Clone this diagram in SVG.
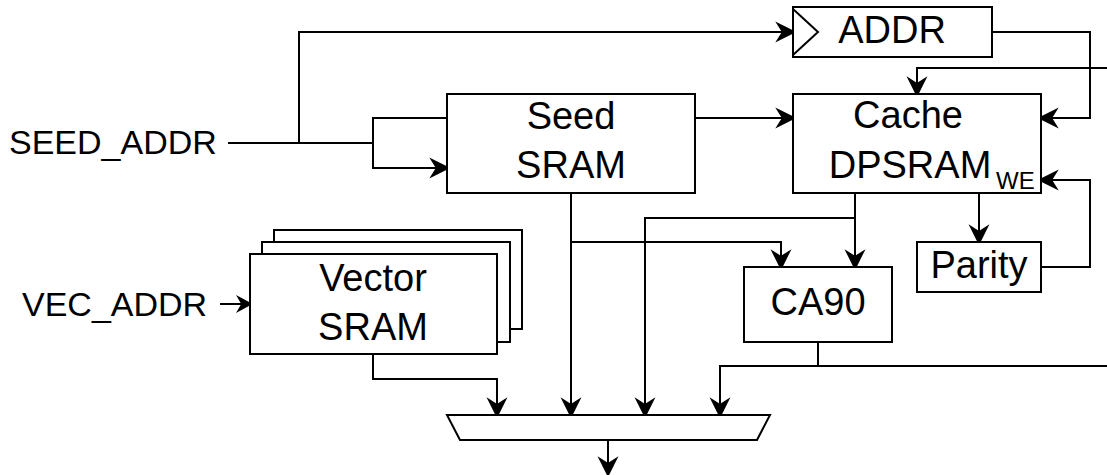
<svg xmlns="http://www.w3.org/2000/svg" width="1107" height="475" viewBox="0 0 1107 475">
<style>
.box{fill:#fff;stroke:#000;stroke-width:2}
.w{fill:none;stroke:#000;stroke-width:2}
.t{font-family:"Liberation Sans",Arial,Helvetica,sans-serif;font-size:38px;fill:#000;text-anchor:middle}
.l{font-family:"Liberation Sans",Arial,Helvetica,sans-serif;font-size:34px;fill:#000}
.s{font-family:"Liberation Sans",Arial,Helvetica,sans-serif;font-size:24px;fill:#000}
</style>
<defs>
<marker id="a" markerUnits="userSpaceOnUse" markerWidth="24" markerHeight="24" viewBox="-22 -12 24 24" refX="-1" refY="0" orient="auto" overflow="visible">
<path d="M0,0 L-16,-8 L-11,0 L-16,8 Z" fill="#000" stroke="#000" stroke-width="2" stroke-linejoin="miter"/>
</marker>
<marker id="b" markerUnits="userSpaceOnUse" markerWidth="20" markerHeight="20" viewBox="-18 -10 20 20" refX="-1" refY="0" orient="auto" overflow="visible">
<path d="M0,0 L-13,-7 L-9,0 L-13,7 Z" fill="#000" stroke="#000" stroke-width="1.5"/>
</marker>
</defs>
<rect width="1107" height="475" fill="#fff"/>
<g id="connectors" class="w" marker-end="url(#a)">
<path d="M228,143 H373 V118 H447" marker-end="none"/>
<path d="M373,143 V168 H447"/>
<path d="M299,143 V32 H793"/>
<path d="M695,118 H793"/>
<path d="M992,32 H1090 V118 H1041"/>
<path d="M1107,68 H917 V94"/>
<path d="M855,193 V267"/>
<path d="M855,218 H645 V415"/>
<path d="M979,193 V242"/>
<path d="M1041,267 H1090 V180 H1041"/>
<path d="M571,193 V415"/>
<path d="M571,242 H781 V267"/>
<path d="M373,354 V379 H497 V415"/>
<path d="M818,342 V366 H720 V415"/>
<path d="M818,366 H1107" marker-end="none"/>
<path d="M608,440 V474"/>
<path d="M220,304 H250" marker-end="url(#b)"/>
</g>
<g id="seed_addr"><text class="l" x="9" y="154">SEED_ADDR</text></g>
<g id="vec_addr"><text class="l" x="22" y="316">VEC_ADDR</text></g>
<g id="addr">
<rect class="box" x="793" y="7" width="199" height="50"/>
<path class="w" d="M793,9 L818,32 L793,55"/>
<text class="t" x="892" y="43">ADDR</text>
</g>
<g id="seed">
<rect class="box" x="447" y="94" width="248" height="99"/>
<text class="t" x="571" y="129">Seed</text>
<text class="t" x="571" y="178">SRAM</text>
</g>
<g id="cache">
<rect class="box" x="793" y="94" width="248" height="99"/>
<text class="t" x="908" y="128">Cache</text>
<text class="t" x="910" y="178">DPSRAM</text>
<text class="s" x="996" y="189">WE</text>
</g>
<g id="vector">
<rect class="box" x="274" y="230" width="248" height="99"/>
<rect class="box" x="262" y="242" width="248" height="100"/>
<rect class="box" x="250" y="254" width="247" height="100"/>
<text class="t" x="373" y="291">Vector</text>
<text class="t" x="373" y="340">SRAM</text>
</g>
<g id="ca90">
<rect class="box" x="744" y="267" width="148" height="75"/>
<text class="t" x="818" y="315">CA90</text>
</g>
<g id="parity">
<rect class="box" x="917" y="242" width="124" height="50"/>
<text class="t" x="979" y="278">Parity</text>
</g>
<g id="mux">
<path class="box" d="M447,415 H770 L757,440 H460 Z"/>
</g>
</svg>
